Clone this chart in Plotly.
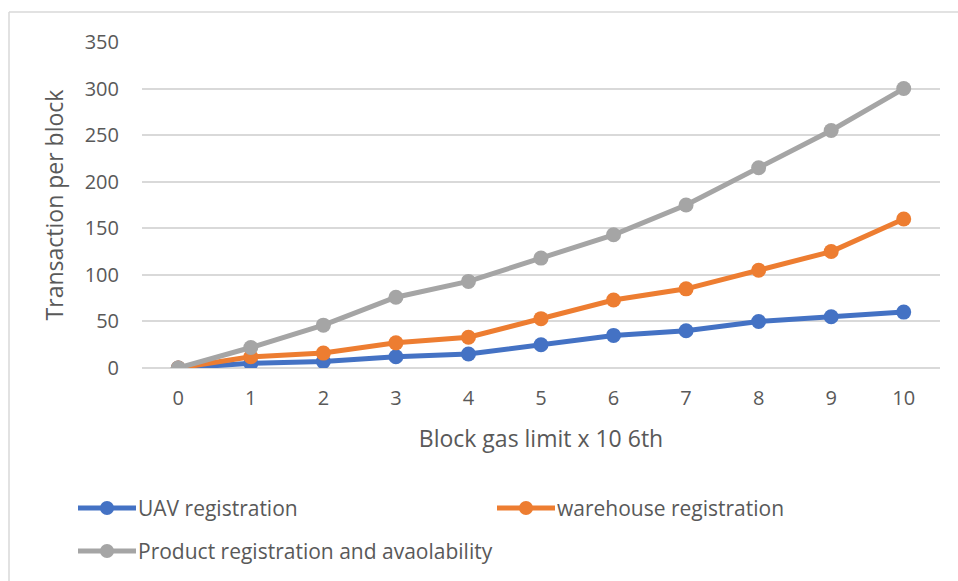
import plotly.graph_objects as go

# Block gas limit (x 10^6) on the category axis
gas_limit = [0, 1, 2, 3, 4, 5, 6, 7, 8, 9, 10]

# Transactions per block for each contract function
uav_registration = [0, 5, 7, 12, 15, 25, 35, 40, 50, 55, 60]
warehouse_registration = [0, 12, 16, 27, 33, 53, 73, 85, 105, 125, 160]
product_registration = [0, 22, 46, 76, 93, 118, 143, 175, 215, 255, 300]

series_names = ["UAV registration", "warehouse registration",
                "Product registration and avaolability"]
series_colors = ["#4472C4", "#ED7D31", "#A5A5A5"]
y_ticks = [0, 50, 100, 150, 200, 250, 300, 350]

W, H = 958, 581
L, R, T, B = 142, 18, 42, 213
PW, PH = W - L - R, H - T - B

TEXT = "#595959"
FONT = "Open Sans"


def px_x(px):
    return (px - L) / PW


def px_y(py):
    return (H - B - py) / PH


fig = go.Figure()
all_series = [uav_registration, warehouse_registration, product_registration]
# Later series are drawn on top of earlier ones
for idx in [0, 1, 2]:
    col = series_colors[idx]
    fig.add_trace(go.Scatter(
        x=gas_limit, y=all_series[idx], name=series_names[idx],
        mode="lines+markers",
        line=dict(color=col, width=5),
        marker=dict(color=col, size=15),
        showlegend=False,
    ))

shapes = []
annotations = []

# Outer chart frame (top and left edges)
shapes.append(dict(type="line", xref="paper", yref="paper",
                   x0=px_x(9), x1=px_x(W + 5), y0=px_y(12), y1=px_y(12),
                   line=dict(color="#D9D9D9", width=1.5)))
shapes.append(dict(type="line", xref="paper", yref="paper",
                   x0=px_x(9), x1=px_x(9), y0=px_y(12), y1=px_y(H + 5),
                   line=dict(color="#D9D9D9", width=1.5)))

# Legend entries
legend_items = [
    (78, 508, 0),
    (497, 508, 1),
    (78, 551, 2),
]
for lx, ly, idx in legend_items:
    col = series_colors[idx]
    shapes.append(dict(type="line", xref="paper", yref="paper",
                       x0=px_x(lx), x1=px_x(lx + 58), y0=px_y(ly), y1=px_y(ly),
                       line=dict(color=col, width=5)))
    cx = lx + 29
    r = 7
    shapes.append(dict(type="circle", xref="paper", yref="paper",
                       x0=px_x(cx - r), x1=px_x(cx + r),
                       y0=px_y(ly + r), y1=px_y(ly - r),
                       fillcolor=col, line=dict(color=col, width=0)))
    annotations.append(dict(xref="paper", yref="paper",
                            x=px_x(lx + 58), y=px_y(ly),
                            xanchor="left", yanchor="middle",
                            text=series_names[idx], showarrow=False,
                            font=dict(family=FONT, size=21, color=TEXT)))

fig.update_layout(
    width=W, height=H,
    margin=dict(l=L, r=R, t=T, b=B),
    paper_bgcolor="white", plot_bgcolor="white",
    font=dict(family=FONT, color=TEXT, size=20),
    shapes=shapes, annotations=annotations,
    xaxis=dict(
        range=[-0.5, 10.5], tickmode="array", tickvals=gas_limit,
        ticktext=[str(v) for v in gas_limit],
        showgrid=False, zeroline=False, showline=False, ticks="",
        ticklabelstandoff=16,
        tickfont=dict(family=FONT, size=20, color=TEXT),
        title=dict(text="Block gas limit x 10 6th", standoff=20,
                   font=dict(family=FONT, size=23, color=TEXT)),
    ),
    yaxis=dict(
        range=[0, 350], tickmode="array", tickvals=y_ticks,
        showgrid=True, gridcolor="#D9D9D9", gridwidth=1.5,
        zeroline=True, zerolinecolor="#D9D9D9", zerolinewidth=1.5,
        showline=False, ticks="", ticklabelstandoff=22,
        tickfont=dict(family=FONT, size=20, color=TEXT),
        title=dict(text="Transaction per block", standoff=14,
                   font=dict(family=FONT, size=23, color=TEXT)),
    ),
)

fig.write_html("out.html")
